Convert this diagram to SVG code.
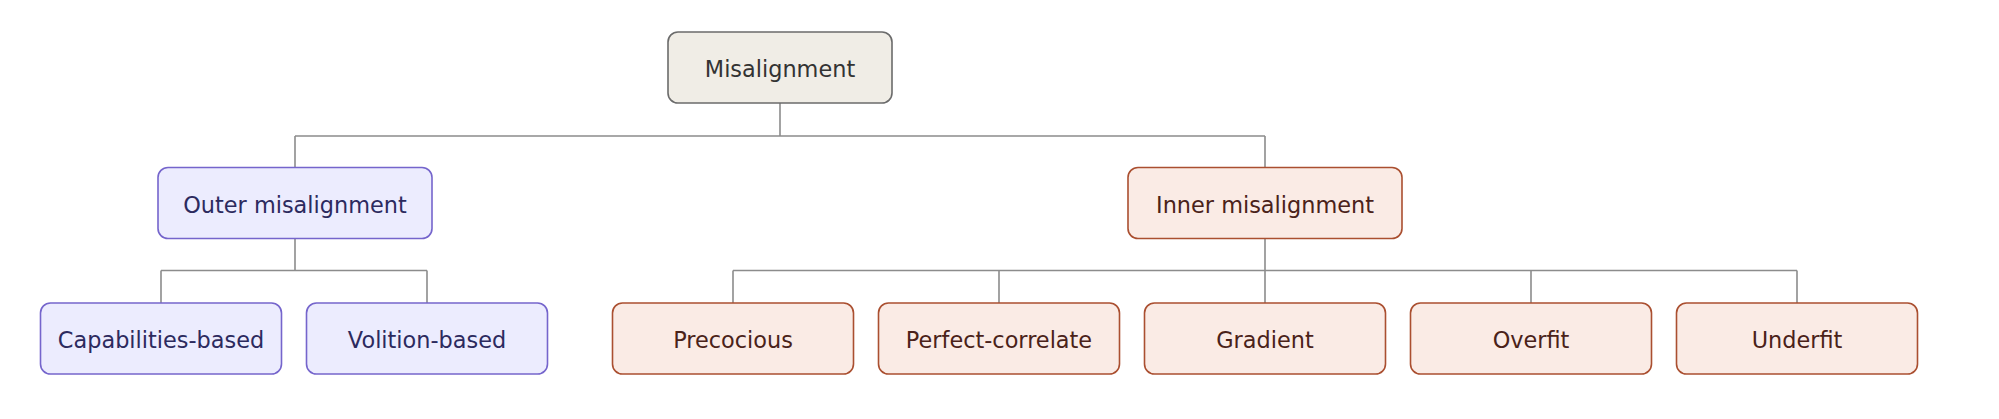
<svg xmlns="http://www.w3.org/2000/svg" width="1999" height="419" viewBox="0 0 1999 419">
<style>
rect{stroke-width:1.6}
text{font-family:"DejaVu Sans",Verdana,sans-serif;font-size:22.4px;text-anchor:middle;dominant-baseline:central}
.root rect{fill:#f0ede6;stroke:#6b6b6b}
.root text{fill:#333333}
.outer rect{fill:#ececfe;stroke:#7565cc}
.outer text{fill:#2c2a5e}
.inner rect{fill:#faebe5;stroke:#aa4f30}
.inner text{fill:#4a2219}
.edges path{fill:none;stroke:#8c8c8c;stroke-width:1.6}
</style>
<rect width="1999" height="419" fill="#ffffff"/>
<g class="edges" id="connectors">
<path d="M780,103 V136 M295,136 H1265 M295,136 V167.5 M1265,136 V167.5"/>
<path d="M295,238.5 V270.5 M161,270.5 H427 M161,270.5 V303 M427,270.5 V303"/>
<path d="M1265,238.5 V303 M733,270.5 H1797 M733,270.5 V303 M999,270.5 V303 M1531,270.5 V303 M1797,270.5 V303"/>
</g>
<g id="misalignment" class="root"><rect x="668" y="32" width="224" height="71" rx="10"/><text x="780" y="69">Misalignment</text></g>
<g id="outer" class="outer"><rect x="158" y="167.5" width="274" height="71" rx="10"/><text x="295" y="204.5">Outer misalignment</text></g>
<g id="inner" class="inner"><rect x="1128" y="167.5" width="274" height="71" rx="10"/><text x="1265" y="204.5">Inner misalignment</text></g>
<g id="capabilities" class="outer"><rect x="40.5" y="303" width="241" height="71" rx="10"/><text x="161" y="340">Capabilities-based</text></g>
<g id="volition" class="outer"><rect x="306.5" y="303" width="241" height="71" rx="10"/><text x="427" y="340">Volition-based</text></g>
<g id="precocious" class="inner"><rect x="612.5" y="303" width="241" height="71" rx="10"/><text x="733" y="340">Precocious</text></g>
<g id="perfect" class="inner"><rect x="878.5" y="303" width="241" height="71" rx="10"/><text x="999" y="340">Perfect-correlate</text></g>
<g id="gradient" class="inner"><rect x="1144.5" y="303" width="241" height="71" rx="10"/><text x="1265" y="340">Gradient</text></g>
<g id="overfit" class="inner"><rect x="1410.5" y="303" width="241" height="71" rx="10"/><text x="1531" y="340">Overfit</text></g>
<g id="underfit" class="inner"><rect x="1676.5" y="303" width="241" height="71" rx="10"/><text x="1797" y="340">Underfit</text></g>
</svg>
